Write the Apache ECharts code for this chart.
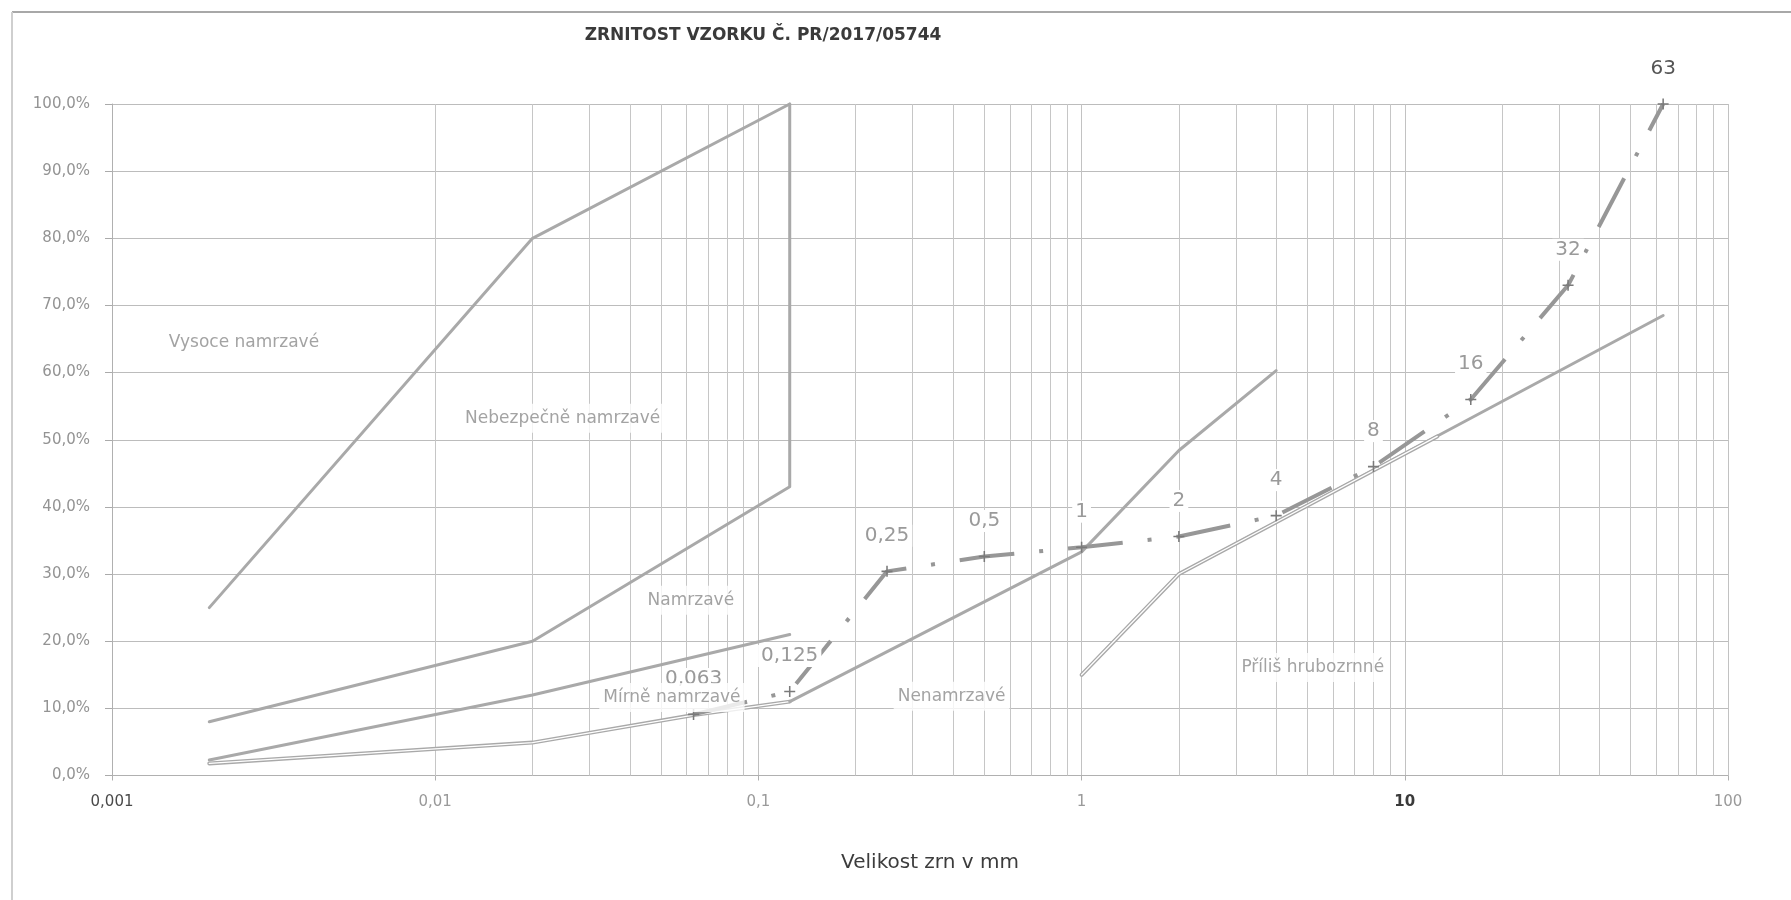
<!DOCTYPE html>
<html>
<head>
<meta charset="utf-8">
<script src="https://cdn.jsdelivr.net/npm/echarts/dist/echarts.min.js"></script>
<style>
html,body{margin:0;padding:0;background:#ffffff;}
#chart{width:1791px;height:900px;}
</style>
</head>
<body>
<div id="chart"></div>
<script>
// ---- data ----
const chartTitle = 'ZRNITOST VZORKU Č. PR/2017/05744';
const xAxisTitle = 'Velikost zrn v mm';

// sample grading curve (sieve size in mm, % passing)
const sieveSizes = [0.063, 0.125, 0.25, 0.5, 1, 2, 4, 8, 16, 32, 63];
const passing    = [9.1, 12.5, 30.4, 32.6, 34.0, 35.6, 38.7, 46.0, 56.0, 73.0, 100];

// zone boundary curves [size mm, %]
const lineA      = [[0.002, 25], [0.02, 80], [0.125, 100]];
const lineB      = [[0.002, 8], [0.02, 20], [0.125, 43], [0.125, 100]];
const lineC      = [[0.002, 2.3], [0.02, 12], [0.125, 21]];
const lineDLow   = [[0.002, 1.8], [0.02, 4.9], [0.063, 9], [0.125, 11]];
const lineDHigh  = [[0.125, 11], [1, 33.3], [2, 48.4], [4, 60.3]];
const lineF      = [[1, 15], [2, 30], [63, 68.5]];
const lineFHollow= [[1, 15], [2, 30], [12.6, 50.5]];

// zone names and where they sit [size mm, %]
const zoneNames = ['Vysoce namrzavé', 'Nebezpečně namrzavé', 'Namrzavé', 'Mírně namrzavé', 'Nenamrzavé', 'Příliš hrubozrnné'];
const zoneX     = [0.00256, 0.0248, 0.0618, 0.054, 0.396, 5.19];
const zoneY     = [64.4, 53.2, 26.1, 11.6, 11.8, 16.1];

// axis range
const xMin = 0.001, xMax = 100;
const yMin = 0, yMax = 100, yStep = 10;

// ---- helpers ----
const FONT = "'DejaVu Sans', 'Liberation Sans', sans-serif";
const fmtNum = v => String(parseFloat(Number(v).toPrecision(6))).replace('.', ',');

const minorX = [];
for (let e = Math.round(Math.log10(xMin)); e < Math.round(Math.log10(xMax)); e++) {
  for (let m = 2; m <= 9; m++) minorX.push(parseFloat((m * Math.pow(10, e)).toPrecision(3)));
}

const GRAY = '#a9a9a9';
function boundary(data, width, color, z) {
  return {
    type: 'line', data: data, symbol: 'none', silent: true, z: z || 2,
    clip: false, animation: false,
    lineStyle: { color: color || GRAY, width: width || 3, cap: 'round', join: 'round' }
  };
}

const sampleData = sieveSizes.map((s, i) => ({
  value: [s, passing[i]],
  label: { color: s === 63 ? '#555555' : '#9a9a9a' }
}));

const zoneData = zoneNames.map((n, i) => ({ name: n, value: [zoneX[i], zoneY[i]] }));

const chart = echarts.init(document.getElementById('chart'), null, { renderer: 'canvas' });

chart.setOption({
  animation: false,
  backgroundColor: '#ffffff',
  title: {
    text: chartTitle,
    left: 763, top: 27, padding: 0, textAlign: 'center',
    textStyle: { fontSize: 17, fontWeight: 'bold', color: '#3a3a3a', fontFamily: FONT }
  },
  graphic: [
    { type: 'line', silent: true, shape: { x1: 12, y1: 12, x2: 1791, y2: 12 }, style: { stroke: '#a8a8a8', lineWidth: 2 } },
    { type: 'line', silent: true, shape: { x1: 12, y1: 12, x2: 12, y2: 900 }, style: { stroke: '#cfcfcf', lineWidth: 2 } }
  ],
  grid: { left: 112, right: 63, top: 104, bottom: 124.5, containLabel: false },
  xAxis: {
    type: 'log', logBase: 10, min: xMin, max: xMax, splitNumber: 5,
    axisLine: { show: true, lineStyle: { color: '#b0b0b0', width: 1 } },
    axisTick: { show: true, length: 5, lineStyle: { color: '#b0b0b0' } },
    splitLine: { show: true, lineStyle: { color: '#c2c2c2', width: 1 } },
    minorTick: { show: false }, minorSplitLine: { show: false },
    axisLabel: {
      margin: 19, showMinLabel: true, showMaxLabel: true,
      formatter: v => {
        const s = fmtNum(v);
        if (s === '10') return '{b|' + s + '}';
        return s === '0,001' ? '{d|' + s + '}' : '{l|' + s + '}';
      },
      rich: {
        d: { color: '#4a4a4a', fontSize: 15, fontFamily: FONT },
        b: { color: '#3a3a3a', fontSize: 15, fontFamily: FONT, fontWeight: 'bold' },
        l: { color: '#9a9a9a', fontSize: 15, fontFamily: FONT }
      }
    },
    name: xAxisTitle, nameLocation: 'middle', nameGap: 77,
    nameTextStyle: { fontSize: 20, color: '#3c3c3c', fontFamily: FONT, padding: [0, 0, 0, 20] }
  },
  yAxis: {
    type: 'value', min: yMin, max: yMax, interval: yStep,
    axisLine: { show: true, lineStyle: { color: '#b0b0b0', width: 1 } },
    axisTick: { show: true, length: 7, lineStyle: { color: '#aaaaaa' } },
    splitLine: { show: true, lineStyle: { color: '#bcbcbc', width: 1 } },
    axisLabel: {
      margin: 22, color: '#939393', fontSize: 15, fontFamily: FONT,
      formatter: v => v.toFixed(1).replace('.', ',') + '%'
    }
  },
  series: [
    {
      type: 'line', data: [], silent: true, z: 1,
      markLine: {
        silent: true, symbol: ['none', 'none'], z: 1, animation: false,
        label: { show: false },
        lineStyle: { color: '#c6c6c6', width: 1, type: 'solid' },
        emphasis: { disabled: true },
        data: minorX.map(v => ({ xAxis: v }))
      }
    },
    boundary(lineA),
    boundary(lineB),
    boundary(lineC),
    boundary(lineDLow, 4),
    boundary(lineDLow, 1.3, '#ffffff', 2),
    boundary(lineDHigh),
    boundary(lineF, 3),
    boundary(lineFHollow, 4),
    boundary(lineFHollow, 1.3, '#ffffff', 2),
    {
      type: 'line', data: sampleData, z: 3, clip: false, silent: true,
      showAllSymbol: true,
      symbol: 'path://M4.3,0H5.7V10H4.3Z M0,4.3H10V5.7H0Z', symbolSize: 11,
      itemStyle: { color: '#7a7a7a' },
      lineStyle: { color: '#979797', width: 4, type: [55, 25, 4, 25], cap: 'butt' },
      label: {
        show: true, position: 'top', distance: 19,
        formatter: p => fmtNum(p.value[0]),
        fontSize: 20, fontFamily: FONT, color: '#9a9a9a',
        backgroundColor: '#ffffff', padding: [1, 3]
      }
    },
    {
      type: 'scatter', data: zoneData, z: 6, silent: true,
      symbolSize: 0, itemStyle: { color: 'rgba(0,0,0,0)' },
      label: {
        show: true, position: 'inside',
        formatter: p => p.name,
        fontSize: 17, fontFamily: FONT, color: '#8c8c8c',
        backgroundColor: '#ffffff', padding: [9, 4, 3, 4]
      }
    }
  ]
});
</script>
</body>
</html>
